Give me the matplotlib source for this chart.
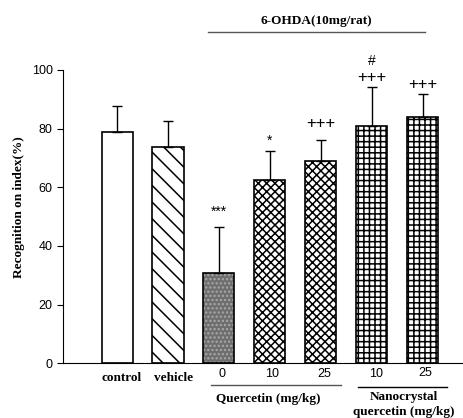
import matplotlib
matplotlib.use("Agg")
import matplotlib.pyplot as plt

groups = ["control", "vehicle", "Q0", "Q10", "Q25", "N10", "N25"]
means = [79.0, 73.6, 30.7, 62.6, 69.1, 80.9, 84.1]
errs = [8.8, 9.1, 15.9, 9.7, 7.0, 13.2, 7.7]
marks = ["", "", "***", "*", "+++", "+++", "+++"]
dose_labels = ["0", "10", "25", "10", "25"]

serif = "Liberation Serif"
sans = "Liberation Sans"
fs = 9.5
plt.rcParams["hatch.linewidth"] = 1.1

fig = plt.figure(figsize=(4.64, 4.18), dpi=100)
ax = fig.add_axes([0.136, 0.131, 0.864, 0.7016])

hatches = ["", "\\\\", "....", "xxxx", "xxxx", "+++", "+++"]
faces = ["white", "white", "#6e6e6e", "white", "white", "white", "white"]
hcolors = ["black", "black", "#a8a8a8", "black", "black", "black", "black"]
x = list(range(len(means)))
# hatched fills, then black outlines on top
fills = ax.bar(x, means, width=0.61, color=faces, edgecolor=hcolors, linewidth=0)
for b, h in zip(fills, hatches):
    b.set_hatch(h)
ax.bar(x, means, width=0.61, fill=False, edgecolor="black", linewidth=1.2)
ax.errorbar(x, means, yerr=[[0] * len(errs), errs], fmt="none", ecolor="black",
            elinewidth=1.0, capsize=3.6, capthick=1.0)

ax.set_xlim(-1.06, 6.815)
ax.set_ylim(0, 100)
ax.set_yticks([0, 20, 40, 60, 80, 100])
ax.set_xticks([])
ax.spines["top"].set_visible(False)
ax.spines["right"].set_visible(False)
ax.tick_params(axis="y", direction="out", length=4, labelsize=9)
for t in ax.get_yticklabels():
    t.set_fontfamily(sans)
fig.text(19 / 464, 1 - 207.5 / 418, "Recognition on index(%)", rotation=90, ha="center",
         va="center", fontfamily=serif, fontweight="bold", fontsize=fs)

# significance marks
mark_y = [0, 0, 51.7, 75.8, 81.6, 97.6, 95.2]
for i, m in enumerate(marks):
    if m:
        size = 12 if m.startswith("+") else 10
        ax.text(i, mark_y[i], m, ha="center", va="center", fontsize=size, fontfamily=sans,
                clip_on=False)
ax.text(5, 103, "#", ha="center", va="center", fontsize=10, fontfamily=sans, clip_on=False)

# top treatment label
ax.text(3.92, 116.7, "6-OHDA(10mg/rat)", ha="center", va="center", fontsize=fs,
        fontfamily=serif, fontweight="bold", clip_on=False)
ax.plot([1.79, 6.05], [113, 113], color="#555555", lw=1.0, clip_on=False)

# bottom labels
ax.text(0.09, -5.0, "control", ha="center", va="center", fontsize=fs, fontfamily=serif,
        fontweight="bold", clip_on=False)
ax.text(1.1, -5.0, "vehicle", ha="center", va="center", fontsize=fs, fontfamily=serif,
        fontweight="bold", clip_on=False)
dose_x = [2.06, 3.04, 4.06, 5.08, 6.05]
dose_y = [-3.6, -3.6, -3.6, -3.6, -3.2]
for dx, dy, lab in zip(dose_x, dose_y, dose_labels):
    ax.text(dx, dy, lab, ha="center", va="center", fontsize=9, fontfamily=sans, clip_on=False)
ax.plot([1.84, 4.39], [-7.3, -7.3], color="#555555", lw=1.0, clip_on=False)
ax.plot([4.73, 6.49], [-8.0, -8.0], color="black", lw=1.0, clip_on=False)
ax.text(2.97, -12.2, "Quercetin (mg/kg)", ha="center", va="center", fontsize=fs,
        fontfamily=serif, fontweight="bold", clip_on=False)
ax.text(5.64, -11.4, "Nanocrystal", ha="center", va="center", fontsize=fs,
        fontfamily=serif, fontweight="bold", clip_on=False)
ax.text(5.64, -16.6, "quercetin (mg/kg)", ha="center", va="center", fontsize=fs,
        fontfamily=serif, fontweight="bold", clip_on=False)

fig.savefig("out.png", dpi=100)
